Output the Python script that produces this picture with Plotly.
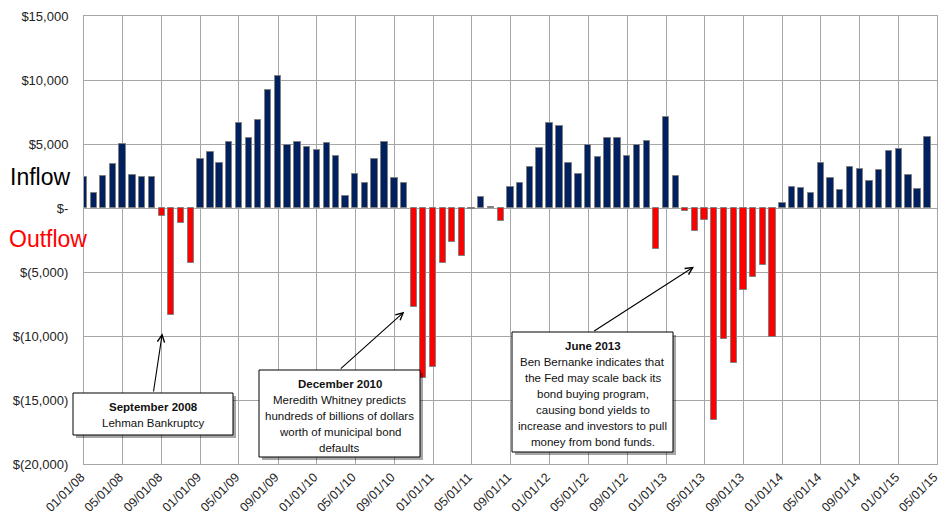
import pandas as pd
import plotly.graph_objects as go

# ---- data (monthly net flows, $ millions) ----
start_month = "2008-01-01"
flows = [2450, 1200, 2530, 3460, 4970, 2580, 2450, 2400, -625, -8385, -1200, -4320,
         3850, 4350, 3520, 5160, 6640, 5470, 6900, 9190, 10310, 4900, 5160, 4770,
         4560, 5050, 4040, 960, 2680, 1930, 3850, 5160, 2320, 1950, -7710, -13300,
         -12400, -4320, -2630, -3720, -50, 890, 60, -1020, 1670, 1980, 3200, 4660,
         6670, 6380, 3540, 2660, 4900, 3980, 5440, 5440, 4040, 4900, 5260, -3180,
         7140, 2470, -230, -1770, -960, -16590, -10230, -12110, -6430, -5420, -4480, -10050,
         420, 1670, 1560, 1200, 3490, 2340, 1410, 3230, 3020, 2140, 2940, 4430,
         4580, 2600, 1460, 5570]
months = pd.date_range(start_month, periods=len(flows), freq="MS")

y_tickvals = [15000, 10000, 5000, 0, -5000, -10000, -15000, -20000]
y_ticktext = ["$15,000", "$10,000", "$5,000", "$-", "$(5,000)", "$(10,000)", "$(15,000)", "$(20,000)"]
x_ticks = pd.date_range("2008-01-01", "2015-05-01", freq="4MS")
x_ticktext = [d.strftime("%m/%d/%y") for d in x_ticks]

callouts = [
    {"title": "September 2008", "lines": ["Lehman Bankruptcy"],
     "box": (73, 393, 233, 435), "first": 407, "step": 15.5,
     "head": (162.3, 333.3), "tail": (153.3, 393)},
    {"title": "December 2010",
     "lines": ["Meredith Whitney predicts", "hundreds of billions of dollars",
               "worth of municipal bond", "defaults"],
     "box": (259, 370, 420, 457), "first": 383.5, "step": 16,
     "head": (404.3, 311.7), "tail": (339.3, 370)},
    {"title": "June 2013",
     "lines": ["Ben Bernanke indicates that", "the Fed may scale back its",
               "bond buying program,", "causing bond yields to",
               "increase and investors to pull", "money from bond funds."],
     "box": (512, 332, 673, 452), "first": 346, "step": 16,
     "head": (694, 266.7), "tail": (592.7, 332)},
]

NAVY = "#002060"
RED = "#FF0000"
GRID = "#A6A6A6"
FONT = "Liberation Sans, Arial, sans-serif"

W, H = 942, 526
ML, MR, MT, MB = 84, 5, 16, 62
PW, PH = W - ML - MR, H - MT - MB


def px_x(p):
    return (p - ML) / PW


def px_y(p):
    return (H - MB - p) / PH


colors = [NAVY if v >= 0 else RED for v in flows]
bar_width_ms = 0.65 * 30.44 * 24 * 3600 * 1000

fig = go.Figure()
fig.add_trace(go.Bar(
    x=months, y=flows, width=bar_width_ms,
    marker=dict(color=colors, line=dict(color="#808080", width=1)),
    hoverinfo="x+y", showlegend=False,
))

shapes = []
annotations = []
for c in callouts:
    x0, y0, x1, y1 = c["box"]
    # shadow
    shapes.append(dict(type="rect", xref="paper", yref="paper",
                       x0=px_x(x0 + 3), x1=px_x(x1 + 3), y0=px_y(y1 + 3), y1=px_y(y0 + 3),
                       fillcolor="rgba(0,0,0,0.35)", line=dict(width=0), layer="above"))
    shapes.append(dict(type="rect", xref="paper", yref="paper",
                       x0=px_x(x0), x1=px_x(x1), y0=px_y(y1), y1=px_y(y0),
                       fillcolor="white", line=dict(color="#000000", width=1), layer="above"))
    cx = px_x((x0 + x1) / 2)
    annotations.append(dict(xref="paper", yref="paper", x=cx, y=px_y(c["first"]),
                            text="<b>" + c["title"] + "</b>", showarrow=False,
                            xanchor="center", yanchor="middle",
                            font=dict(family=FONT, size=11.5, color="#111111")))
    for i, line in enumerate(c["lines"]):
        annotations.append(dict(xref="paper", yref="paper", x=cx,
                                y=px_y(c["first"] + (i + 1) * c["step"]),
                                text=line, showarrow=False,
                                xanchor="center", yanchor="middle",
                                font=dict(family=FONT, size=11.5, color="#111111")))
    hx, hy = c["head"]
    tx, ty = c["tail"]
    annotations.append(dict(xref="paper", yref="paper", x=px_x(hx), y=px_y(hy),
                            axref="pixel", ayref="pixel", ax=tx - hx, ay=ty - hy,
                            text="", showarrow=True, arrowhead=5, arrowsize=1.3,
                            arrowwidth=1.1, arrowcolor="#000000", standoff=0))

annotations.append(dict(xref="paper", yref="y", x=px_x(8), y=2400, text="Inflow",
                        showarrow=False, xanchor="left", yanchor="middle",
                        font=dict(family=FONT, size=23, color="#000000")))
annotations.append(dict(xref="paper", yref="y", x=px_x(7), y=-2400, text="Outflow",
                        showarrow=False, xanchor="left", yanchor="middle",
                        font=dict(family=FONT, size=23, color=RED)))

fig.update_layout(
    width=W, height=H,
    margin=dict(l=ML, r=MR, t=MT, b=MB, pad=0, autoexpand=False),
    paper_bgcolor="white", plot_bgcolor="white",
    shapes=shapes, annotations=annotations,
    bargap=0,
    xaxis=dict(
        type="date", range=["2008-01-01", "2015-05-01 02:00"],
        tickvals=x_ticks, ticktext=x_ticktext, tickangle=-45,
        ticklabeloverflow="allow", automargin=False, ticklabelshift=-3,
        showgrid=True, gridcolor=GRID, gridwidth=1,
        showline=True, linecolor=GRID, mirror=True,
        ticks="", zeroline=False,
        tickfont=dict(family=FONT, size=12.5, color="#222222"),
    ),
    yaxis=dict(
        range=[-20000, 15000], tickvals=y_tickvals, ticktext=y_ticktext,
        automargin=False,
        showgrid=True, gridcolor=GRID, gridwidth=1,
        showline=True, linecolor=GRID, mirror=True,
        ticks="", zeroline=False, ticklabelstandoff=12,
        tickfont=dict(family=FONT, size=13, color="#222222"),
    ),
)

fig.write_html("out.html")
